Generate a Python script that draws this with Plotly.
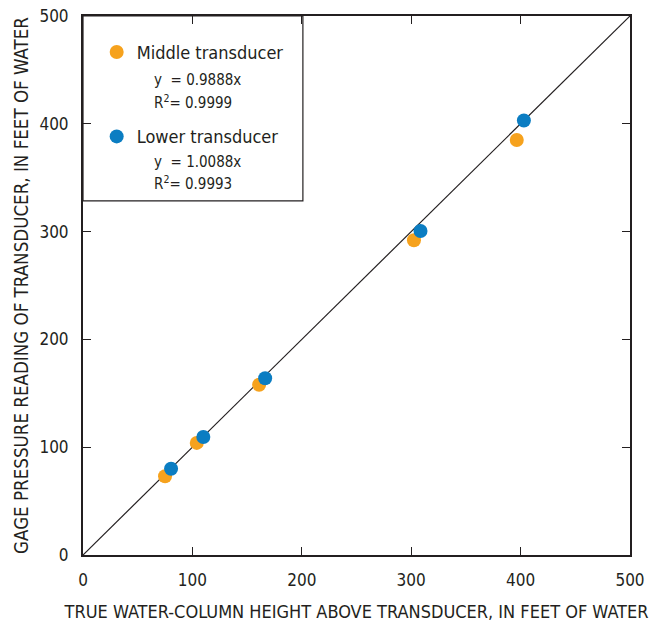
import plotly.graph_objects as go

# Data (feet of water)
middle_true = [75, 104, 161, 302.5, 396.5]
middle_gage = [73, 104, 158, 292, 385]
lower_true = [80.5, 110, 166.5, 308.5, 403]
lower_gage = [80, 109.5, 164, 300.5, 403]
line_x = [0, 500]
line_y = [0, 500]
ticks = [0, 100, 200, 300, 400, 500]

ORANGE = "#F6A21D"
BLUE = "#0B7DC2"
INK = "#231F20"
FONT = "DejaVu Sans Condensed, Liberation Sans Narrow, Roboto, sans-serif"

fig = go.Figure()
fig.add_trace(go.Scatter(x=line_x, y=line_y, mode="lines",
                         line=dict(color=INK, width=1.2), showlegend=False,
                         hoverinfo="skip"))
fig.add_trace(go.Scatter(x=middle_true, y=middle_gage, mode="markers",
                         name="Middle transducer", legendgroup="m",
                         marker=dict(color=ORANGE, size=14, line=dict(width=0))))
fig.add_trace(go.Scatter(x=lower_true, y=lower_gage, mode="markers",
                         name="Lower transducer", legendgroup="l",
                         marker=dict(color=BLUE, size=14, line=dict(width=0))))

axis_common = dict(range=[0, 500], tickvals=ticks, ticks="inside", ticklen=8,
                   tickwidth=1.2, tickcolor=INK, showline=True, linecolor=INK,
                   linewidth=2, mirror="ticks", showgrid=False, zeroline=False,
                   automargin=False,
                   tickfont=dict(family=FONT, size=17, color=INK))

fig.update_layout(
    width=655, height=622,
    margin=dict(l=83, r=25, t=16, b=67),
    paper_bgcolor="white", plot_bgcolor="white",
    font=dict(family=FONT, color=INK),
    xaxis=dict(**axis_common, ticklabelstandoff=9,
               title=dict(text="TRUE WATER-COLUMN HEIGHT ABOVE TRANSDUCER, IN FEET OF WATER",
                          font=dict(family=FONT, size=18, color=INK), standoff=23)),
    yaxis=dict(**axis_common, ticklabelstandoff=9,
               title=dict(text="GAGE PRESSURE READING OF TRANSDUCER, IN FEET OF WATER",
                          font=dict(family=FONT, size=18.6, color=INK), standoff=6)),
    legend=dict(x=0.025, y=0.967, xanchor="left", yanchor="top",
                bgcolor="rgba(0,0,0,0)", borderwidth=0,
                font=dict(family=FONT, size=18, color=INK),
                tracegroupgap=58, itemwidth=30, traceorder="grouped"),
    showlegend=True,
)

# Legend box
fig.add_shape(type="rect", xref="paper", yref="paper", x0=0, x1=0.402,
              y0=0.657, y1=1.0, line=dict(color=INK, width=1.2),
              fillcolor="rgba(0,0,0,0)", layer="below")

eq = [("y  = 0.9888x", 0.881), ("R<sup>2</sup>= 0.9999", 0.840),
      ("y  = 1.0088x", 0.730), ("R<sup>2</sup>= 0.9993", 0.691)]
for txt, yy in eq:
    fig.add_annotation(text=txt, xref="paper", yref="paper", x=0.126, y=yy,
                       xanchor="left", yanchor="middle", showarrow=False,
                       font=dict(family=FONT, size=15, color=INK))

fig.write_html("out.html")
